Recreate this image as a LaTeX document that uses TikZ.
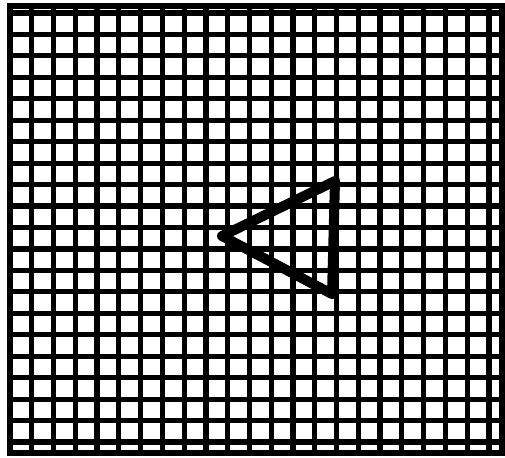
\documentclass[tikz,border=0pt]{standalone}
\usepackage{tikz}
\usetikzlibrary{calc}
\tikzset{gridline/.style={line width=5.2pt, black}}
\tikzset{figure/.style={line width=10pt, line join=round, line cap=round, black}}

\begin{document}
\begin{tikzpicture}[x=1pt, y=-1pt]
  \useasboundingbox (0,0) rectangle (505,457);
  % grid lines
  \foreach \k in {0,...,22}
    \draw[gridline] ({10+21.77*\k},6) -- ({10+21.77*\k},453);
  \foreach \k in {0,...,20}
    \draw[gridline] (10,{13+21.45*\k}) -- (502,{13+21.45*\k});
  % frame
  \draw[gridline] (10,6) rectangle (502,453);
  % triangle
  \coordinate (top) at (335,181);
  \coordinate (tip) at (222,236);
  \coordinate (bottom) at (332,294);
  \draw[figure] (top) -- (tip) -- (bottom) -- cycle;
\end{tikzpicture}
\end{document}
